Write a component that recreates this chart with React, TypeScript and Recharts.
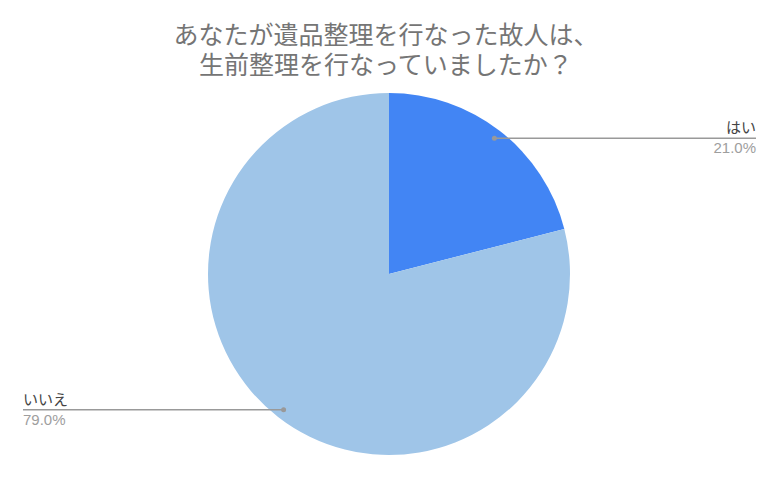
import { PieChart, Pie, Cell } from 'recharts';

const labels = ['はい', 'いいえ'];
const values = [21.0, 79.0];
const colors = ['#4285f4', '#9fc5e8'];

const data = labels.map((name, i) => ({ name, value: values[i] }));

const RADIAN = Math.PI / 180;

function renderLabel(props: any) {
  const { cx, cy, midAngle, outerRadius, percent, name } = props;
  const r = outerRadius * 0.95;
  const px = cx + r * Math.cos(-midAngle * RADIAN);
  const py = cy + r * Math.sin(-midAngle * RADIAN);
  const right = px > cx;
  const endX = right ? cx + outerRadius + 186 : cx - outerRadius - 185;
  return (
    <g>
      <line x1={px} y1={py} x2={endX} y2={py} stroke="#999" strokeWidth={1.5} />
      <circle cx={px} cy={py} r={2.5} fill="#999" />
      <text
        x={endX}
        y={py - 5}
        textAnchor={right ? 'end' : 'start'}
        fontSize={15}
        fill="#444"
        fontFamily="'Noto Sans CJK JP', sans-serif"
      >
        {name}
      </text>
      <text
        x={endX}
        y={py + 15}
        textAnchor={right ? 'end' : 'start'}
        fontSize={15}
        fill="#9e9e9e"
        fontFamily="Arial, 'Liberation Sans', sans-serif"
      >
        {(percent * 100).toFixed(1)}%
      </text>
    </g>
  );
}

export default function App() {
  return (
    <div style={{ position: 'absolute', left: 0, top: 0, width: 780, height: 481, background: '#fff' }}>
      <div
        style={{
          position: 'absolute',
          left: 0,
          top: 18,
          width: 772,
          textAlign: 'center',
          fontFamily: "'Noto Sans CJK JP', sans-serif",
          fontSize: 25,
          lineHeight: '30px',
          color: '#757575',
        }}
      >
        <div>あなたが遺品整理を行なった故人は、</div>
        <div>生前整理を行なっていましたか？</div>
      </div>
      <PieChart
        width={780}
        height={481}
        margin={{ top: 0, right: 0, bottom: 0, left: 0 }}
        style={{ position: 'absolute', left: 0, top: 0 }}
      >
        <Pie
          data={data}
          dataKey="value"
          nameKey="name"
          cx={389}
          cy={274}
          outerRadius={181}
          startAngle={90}
          endAngle={-270}
          stroke="none"
          label={renderLabel}
          labelLine={false}
          isAnimationActive={false}
        >
          {data.map((d, i) => (
            <Cell key={d.name} fill={colors[i]} />
          ))}
        </Pie>
      </PieChart>
    </div>
  );
}
